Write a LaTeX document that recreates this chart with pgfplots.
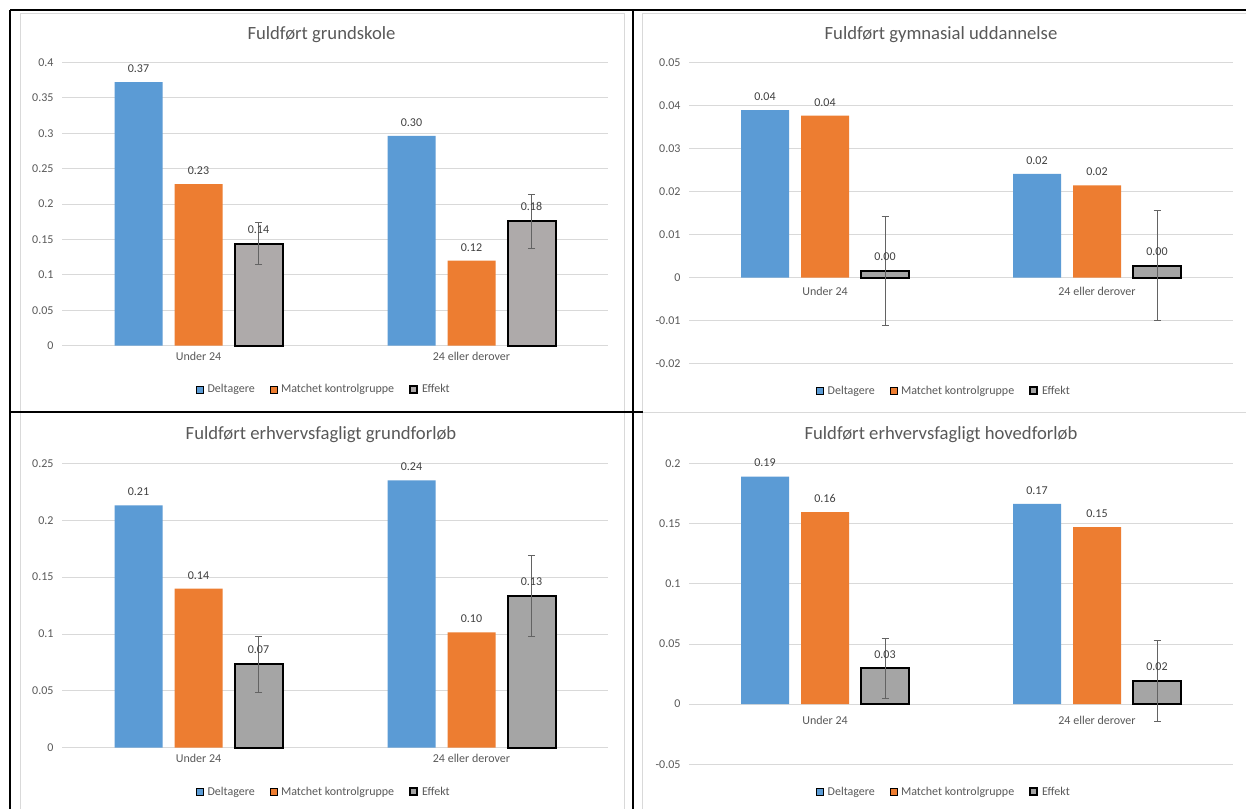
\documentclass[border=0pt]{standalone}
\usepackage{fontspec}
\setmainfont{Carlito}
\usepackage{pgfplots}
\pgfplotsset{compat=1.18}
\definecolor{cblue}{HTML}{5B9BD5}
\definecolor{corange}{HTML}{ED7D31}
\definecolor{cgrayA}{HTML}{AEAAAA}
\definecolor{cgrayB}{HTML}{A5A5A5}
\definecolor{cgrid}{HTML}{D9D9D9}
\definecolor{ctext}{HTML}{595959}
\definecolor{cval}{HTML}{404040}
\definecolor{cerr}{HTML}{636363}
\newcommand{\sz}{\fontsize{12bp}{14bp}\selectfont}
\newcommand{\tsz}{\fontsize{18.67bp}{22bp}\selectfont}
\pgfplotsset{
  sqlegend/.style={legend image code/.code={\draw[##1] (0bp,-3.5bp) rectangle (7bp,3.5bp); \path (9bp,0bp);}},
  exbar/.style={
    scale only axis,
    ybar,
    xmin=0.5, xmax=2.5,
    xtick={1,2},
    xticklabels={Under 24, 24 eller derover},
    major tick length=0pt,
    axis line style={draw=none},
    ymajorgrids, grid style={cgrid, line width=0.75bp},
    ticklabel style={font=\sz, text=ctext},
    /pgf/number format/assume math mode=true,
    scaled y ticks=false,
    yticklabel style={/pgf/number format/fixed, /pgf/number format/precision=3, xshift=-5bp},
    bar width=48bp,
    nodes near coords={\pgfmathprintnumber[fixed,fixed zerofill,precision=2,assume math mode=true]{\pgfplotspointmeta}},
    every node near coord/.append style={font=\sz, text=cval, yshift=6bp},
    legend columns=3,
    legend style={draw=none, fill=none, font=\sz, text=ctext, anchor=center,
       /tikz/every even column/.append style={column sep=13bp}},
    clip=false,
  },
  dplot/.style={fill=cblue, draw=none, bar shift=-60bp, sqlegend},
  mplot/.style={fill=corange, draw=none, bar shift=0bp, sqlegend},
  eplot/.style={fill=#1, draw=black, line width=2bp, bar shift=60bp, sqlegend,
     error bars/.cd, y dir=both, y explicit,
     error bar style={draw=cerr, line width=1bp},
     error mark options={rotate=90, draw=cerr, line width=1bp, mark size=3.5bp}},
}
\begin{document}
\begin{tikzpicture}
\path[use as bounding box] (0,0) rectangle (1246bp,-809bp);
\fill[white] (0,0) rectangle (1246bp,-809bp);
\begin{scope}[cgrid, line width=1bp]
\draw (20bp,-13bp) -- (20bp,-809bp);
\draw (624.5bp,-13bp) -- (624.5bp,-809bp);
\draw (642.5bp,-13bp) -- (642.5bp,-809bp);
\draw (20bp,-13bp) -- (624.5bp,-13bp);
\draw (642.5bp,-13bp) -- (1246bp,-13bp);
\draw (642.5bp,-412bp) -- (1246bp,-412bp);
\end{scope}

% top-left
\begin{axis}[exbar, at={(62bp,-345.7bp)}, anchor=south west, width=546bp, height=283.4bp,
  ymin=0, ymax=0.4, ytick={0,0.05,0.1,0.15,0.2,0.25,0.3,0.35,0.4},
  legend style={at={(0.48,-0.154)}}, xticklabel style={yshift=-3bp}]
\addplot[dplot] coordinates {(1,0.372) (2,0.296)};
\addplot[mplot] coordinates {(1,0.228) (2,0.120)};
\addplot[eplot=cgrayA] coordinates {(1,0.144) +- (0,0.0295) (2,0.1755) +- (0,0.0376)};
\legend{Deltagere, Matchet kontrolgruppe, Effekt}
\end{axis}

% top-right
\begin{axis}[exbar, at={(689bp,-363.7bp)}, anchor=south west, width=544bp, height=301.4bp,
  ymin=-0.02, ymax=0.05, ytick={-0.02,-0.01,0,0.01,0.02,0.03,0.04,0.05},
  legend style={at={(0.469,-0.0896)}}, xticklabel style={yshift=80bp}]
\addplot[dplot] coordinates {(1,0.0389) (2,0.0241)};
\addplot[mplot] coordinates {(1,0.0376) (2,0.0214)};
\addplot[eplot=cgrayB] coordinates {(1,0.0015) +- (0,0.01265) (2,0.0028) +- (0,0.01285)};
\legend{Deltagere, Matchet kontrolgruppe, Effekt}
\end{axis}

% bottom-left
\begin{axis}[exbar, at={(62bp,-747.7bp)}, anchor=south west, width=546bp, height=284.4bp,
  ymin=0, ymax=0.25, ytick={0,0.05,0.1,0.15,0.2,0.25},
  legend style={at={(0.48,-0.155)}}, xticklabel style={yshift=-3bp}]
\addplot[dplot] coordinates {(1,0.2131) (2,0.235)};
\addplot[mplot] coordinates {(1,0.1398) (2,0.1014)};
\addplot[eplot=cgrayB] coordinates {(1,0.0734) +- (0,0.0246) (2,0.1334) +- (0,0.0353)};
\legend{Deltagere, Matchet kontrolgruppe, Effekt}
\end{axis}

% bottom-right
\begin{axis}[exbar, at={(689bp,-764.3bp)}, anchor=south west, width=544bp, height=301bp,
  ymin=-0.05, ymax=0.2, ytick={-0.05,0,0.05,0.1,0.15,0.2},
  legend style={at={(0.469,-0.091)}}, xticklabel style={yshift=52bp}]
\addplot[dplot] coordinates {(1,0.189) (2,0.1664)};
\addplot[mplot] coordinates {(1,0.1595) (2,0.147)};
\addplot[eplot=cgrayB] coordinates {(1,0.0296) +- (0,0.0248) (2,0.0194) +- (0,0.0335)};
\legend{Deltagere, Matchet kontrolgruppe, Effekt}
\end{axis}

\node[font=\tsz, text=ctext] at (321.5bp,-34.3bp) {Fuldført grundskole};
\node[font=\tsz, text=ctext] at (941bp,-34.3bp) {Fuldført gymnasial uddannelse};
\node[font=\tsz, text=ctext] at (321bp,-435bp) {Fuldført erhvervsfagligt grundforløb};
\node[font=\tsz, text=ctext] at (941bp,-435bp) {Fuldført erhvervsfagligt hovedforløb};

\begin{scope}[black, line width=2bp]
\draw (10bp,-10bp) -- (1246bp,-10bp);
\draw (10bp,-10bp) -- (10bp,-809bp);
\draw (632.7bp,-10bp) -- (632.7bp,-809bp);
\draw (10bp,-412bp) -- (642.5bp,-412bp);
\end{scope}
\end{tikzpicture}
\end{document}
